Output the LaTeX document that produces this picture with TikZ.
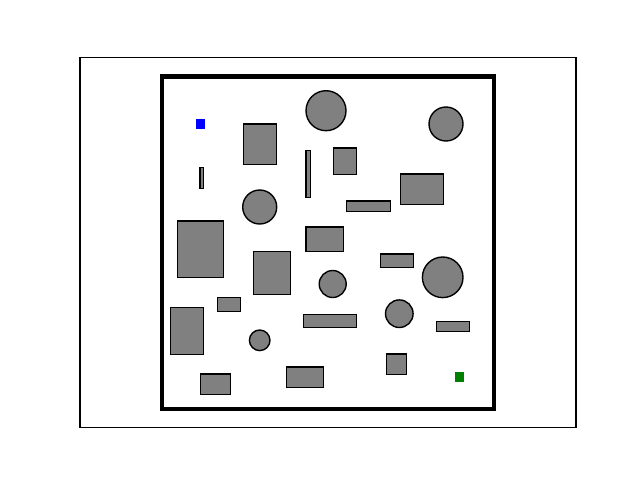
\documentclass[tikz,border=0pt]{standalone}
\usepackage{tikz}
\definecolor{ObstacleGray}{HTML}{808080}
\definecolor{StartBlue}{HTML}{0000FF}
\definecolor{GoalGreen}{HTML}{008000}

\begin{document}
\begin{tikzpicture}[x=0.72pt,y=-0.72pt]
  \useasboundingbox (0,0) rectangle (640,480);
  \draw[line width=0.8pt] (80,57.6) rectangle (576,427.2);
  \foreach \xa/\ya/\xb/\yb in {243.3/124/276.7/164.3,200/167.7/203.7/188.7,306/150.7/310.7/197.3,
      333.3/148/356.7/174.7,400.3/174/443.7/204.3,346.3/201/390.7/211.3,177.3/221/223.7/277.7,
      306/227/343.7/251.7,253.3/251.3/290.7/294.7,380.3/254/413.7/267.3,217.3/297.3/240.3/311.3,
      170.3/307.3/203.3/354.7,303.3/314.3/356.7/327.3,436.3/321.3/469.7/331.3,386.3/354/406.7/374.7,
      286.3/367/323.7/387.3,200.3/374/230.7/394.3} {
    \filldraw[fill=ObstacleGray,line width=1pt] (\xa,\ya) rectangle (\xb,\yb);
  }
  \foreach \x/\y/\r in {326/110.7/20,446/124/17,259.7/207/17,332.7/284/13.5,
      442.7/277.3/20.3,399.3/313.7/13.8,259.7/340.3/10.3} {
    \filldraw[fill=ObstacleGray,line width=1pt] (\x,\y) circle (\r);
  }
  \draw[line width=3pt] (162,76.5) rectangle (494,409);
  \fill[StartBlue] (195.7,119.3) rectangle (205.3,129.3);
  \fill[GoalGreen] (454.7,372.3) rectangle (464.3,382.3);
\end{tikzpicture}
\end{document}
